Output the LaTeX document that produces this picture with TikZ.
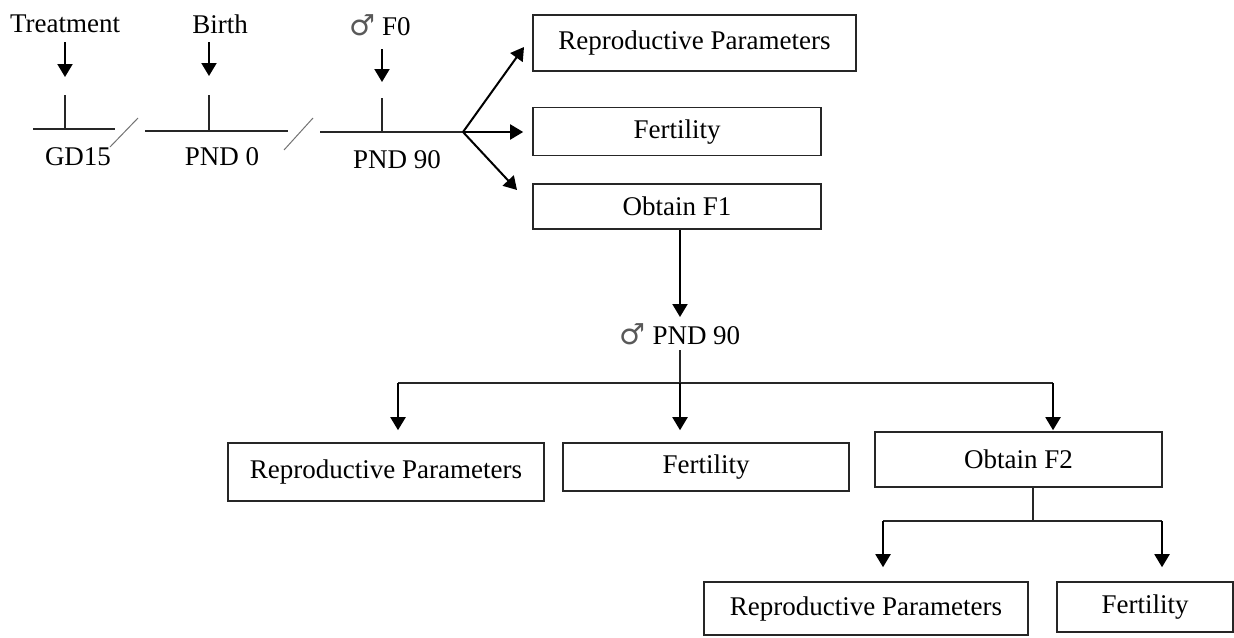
\documentclass[tikz,border=0pt]{standalone}
\usepackage{fontspec}
\setmainfont{Liberation Serif}
\newfontfamily\symbfont{DejaVu Sans}
\usepackage{tikz}
\usetikzlibrary{positioning}
\usetikzlibrary{arrows.meta}
\tikzset{>={Triangle[width=7.5pt,length=6.5pt]}}
\newcommand{\malesign}{{\symbfont\color{black!65}\fontsize{14.5pt}{14pt}\selectfont ♂}}

\begin{document}
\begin{tikzpicture}[x=0.5pt, y=-0.5pt, font=\fontsize{13.5pt}{16pt}\selectfont, box/.style={draw=black!85, line width=0.8pt, inner sep=0pt, align=center}, txt/.style={inner sep=0pt}, arr/.style={->, line width=1pt}, tickline/.style={line width=0.6pt, black!85}, breaksign/.style={line width=0.5pt, black!55}]
    \useasboundingbox (0,0) rectangle (1234,637);

    %Nodes
    \node[txt](treat) at (65,24) {Treatment};
    \node[txt](birth) at (220,24) {Birth};
    \node[txt](f0) at (380,25) {\malesign{} F0};
    \node[txt](gdlbl) at (78,157) {GD15};
    \node[txt](pnd0lbl) at (222,157) {PND 0};
    \node[txt](pnd90lbl) at (397,160) {PND 90};
    \node[box, minimum width=161.5pt, minimum height=28pt](rep1) at (694.5,43) {Reproductive Parameters};
    \node[box, minimum width=144pt, minimum height=24pt](fert1)[below right=17.5pt and 0pt of rep1.south west]{Fertility};
    \node[box, minimum width=144pt, minimum height=22.5pt](obt1)[below right=13.5pt and 0pt of fert1.south west]{Obtain F1};
    \node[txt](m90) at (680,334) {\malesign{} PND 90};
    \node[box, minimum width=158pt, minimum height=29pt](rep2) at (386,472) {Reproductive Parameters};
    \node[box, minimum width=143pt, minimum height=24pt](fert2) at (706,467) {Fertility};
    \node[box, minimum width=143.5pt, minimum height=27.5pt](obt2) at (1018.5,459.5) {Obtain F2};
    \node[box, minimum width=162pt, minimum height=26.5pt](rep3) at (866,608.5) {Reproductive Parameters};
    \node[box, minimum width=88pt, minimum height=25pt](fert3) at (1145,607) {Fertility};

    %Timeline
    \coordinate (gd) at (65,129);
    \coordinate (pnd0) at (209,131);
    \coordinate (pnd90) at (382,132);
    \coordinate (fork) at (463,132);
    \draw[tickline] (33,129) -- (115,129);
    \draw[tickline] (145,131) -- (288,131);
    \draw[tickline] (320,132) -- (fork);
    \draw[tickline] (gd) -- ++(0,-34);
    \draw[tickline] (pnd0) -- ++(0,-36);
    \draw[tickline] (pnd90) -- ++(0,-34);
    \draw[breaksign] (110,147) -- (138,118);
    \draw[breaksign] (284,150) -- (313,118);

    %Lines
    \coordinate (treatin) at (65,42);
    \coordinate (birthin) at (209,42);
    \coordinate (f0in) at (382,49);
    \draw[arr] (treatin) -- ++(0,35);
    \draw[arr] (birthin) -- ++(0,34);
    \draw[arr] (f0in) -- ++(0,33);
    \coordinate (toprep) at (524,47);
    \coordinate (topobt) at (517,190);
    \draw[arr] (fork) -- (toprep);
    \draw[arr, shorten >=4.5pt] (fork) -- (fork -| fert1.west);
    \draw[arr] (fork) -- (topobt);
    \coordinate (m90in) at (680,317);
    \coordinate (m90out) at (680,350);
    \draw[arr] (m90in |- obt1.south) -- (m90in);
    \coordinate (c2) at (680,383);
    \coordinate (c2a) at (398,383);
    \coordinate (c2c) at (1053,383);
    \draw[tickline] (m90out) -- (c2);
    \draw[tickline] (c2a) -- (c2c);
    \draw[arr, shorten >=6pt] (c2a) -- (c2a |- rep2.north);
    \draw[arr, shorten >=6pt] (c2) -- (c2 |- fert2.north);
    \draw[arr, shorten >=0.5pt] (c2c) -- (c2c |- obt2.north);
    \coordinate (c3) at (1033,521);
    \coordinate (c3a) at (883,521);
    \coordinate (c3b) at (1162,521);
    \draw[tickline] (c3 |- obt2.south) -- (c3);
    \draw[tickline] (c3a) -- (c3b);
    \draw[arr, shorten >=7pt] (c3a) -- (c3a |- rep3.north);
    \draw[arr, shorten >=7pt] (c3b) -- (c3b |- fert3.north);

\end{tikzpicture}
\end{document}
